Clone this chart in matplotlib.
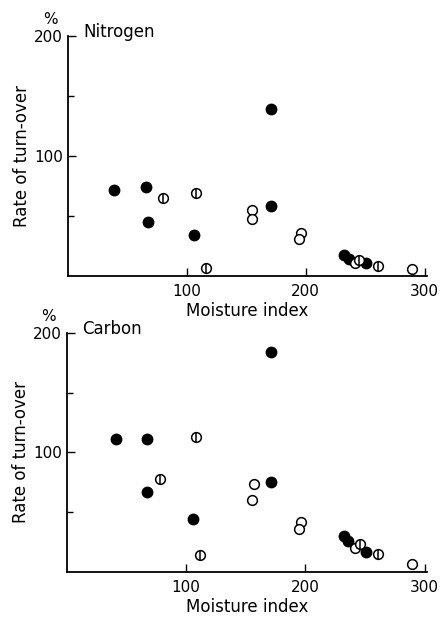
import matplotlib.pyplot as plt

# Nitrogen panel
n_filled_x = [39, 66, 67, 106, 171, 171, 232, 236, 251]
n_filled_y = [72, 74, 45, 34, 139, 58, 17.5, 14, 11]
n_open_x = [155, 155, 196, 194, 241, 289]
n_open_y = [55, 47.5, 36, 31, 11, 5.5]
n_barred_x = [80, 108, 116, 245, 261]
n_barred_y = [65, 69.5, 7, 13.5, 8]

# Carbon panel
c_filled_x = [41, 67, 67, 106, 171, 171, 232, 236, 251]
c_filled_y = [111, 111, 67, 44, 184, 75, 30, 26, 17]
c_open_x = [157, 155, 196, 195, 242, 289]
c_open_y = [73.5, 60, 42, 36, 20, 7]
c_barred_x = [78, 108, 112, 246, 261]
c_barred_y = [78, 113, 14, 23, 15]

plt.rcParams['font.family'] = 'DejaVu Sans'

fig = plt.figure(figsize=(4.44, 6.19), dpi=100)
ax1 = fig.add_axes([0.153, 0.554, 0.809, 0.388])
ax2 = fig.add_axes([0.150, 0.076, 0.812, 0.386])


def panel(ax, fx, fy, ox, oy, bx, by, name):
    ax.plot(fx, fy, 'o', color='black', markersize=7.5, zorder=3)
    ax.plot(ox, oy, 'o', markerfacecolor='white', markeredgecolor='black',
            markeredgewidth=1.1, markersize=7, zorder=3)
    ax.plot(bx, by, 'o', markerfacecolor='white', markeredgecolor='black',
            markeredgewidth=1.1, markersize=7, zorder=3)
    ax.plot(bx, by, '|', color='black', markeredgewidth=1.1, markersize=6.5, zorder=4)

    ax.set_xlim(0, 302)
    ax.set_ylim(0, 200)
    ax.spines['top'].set_visible(False)
    ax.spines['right'].set_visible(False)
    ax.spines['left'].set_linewidth(1.3)
    ax.spines['bottom'].set_linewidth(1.3)
    ax.set_xticks([100, 200, 300])
    ax.set_yticks([100, 200])
    ax.set_yticks([50, 150], minor=True)
    ax.tick_params(axis='both', direction='in', length=6, width=1, labelsize=11)
    ax.tick_params(axis='y', which='minor', direction='in', length=4, width=1)
    ax.tick_params(axis='x', pad=6)
    ax.set_xlabel('Moisture index', fontsize=12, labelpad=2)
    ax.set_ylabel('Rate of turn-over', fontsize=12, labelpad=2)
    ax.text(13, 203, name, fontsize=12, va='center', ha='left')
    ax.text(-0.05, 1.07, '%', transform=ax.transAxes, fontsize=11,
            ha='center', va='center')


panel(ax1, n_filled_x, n_filled_y, n_open_x, n_open_y, n_barred_x, n_barred_y, 'Nitrogen')
panel(ax2, c_filled_x, c_filled_y, c_open_x, c_open_y, c_barred_x, c_barred_y, 'Carbon')

fig.savefig('out.png', dpi=100)
